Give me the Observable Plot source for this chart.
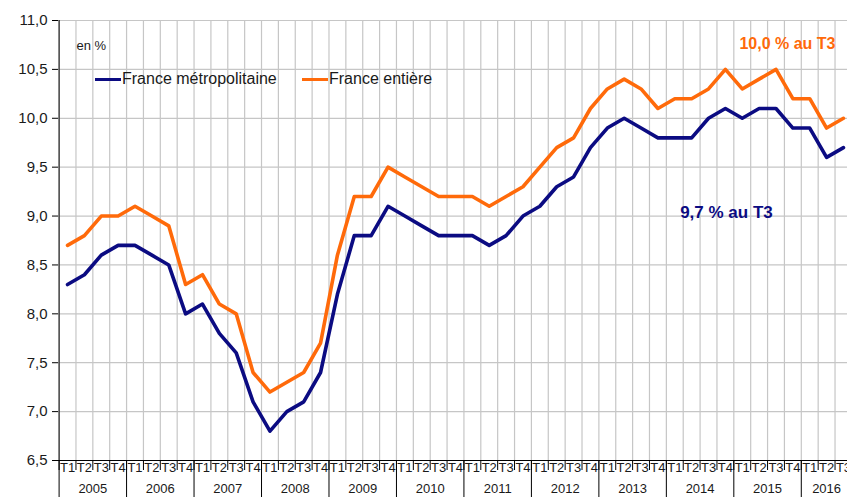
<!DOCTYPE html>
<html><head><meta charset="utf-8">
<script src="https://cdn.jsdelivr.net/npm/d3@7"></script>
<script src="https://cdn.jsdelivr.net/npm/@observablehq/plot@0.6"></script>
<style>
html,body{margin:0;padding:0;background:#fff;overflow:hidden;}
#wrap{position:relative;width:847px;height:497px;overflow:hidden;}
.leg{position:absolute;height:20px;font-family:"Liberation Sans",Arial,sans-serif;font-size:16px;color:#1a1a1a;display:flex;align-items:center;white-space:nowrap;}
.leg .sw{display:inline-block;width:26px;height:3px;margin-right:1px;}
</style></head><body><div id="wrap"></div>
<script>
// ---- data ----
const years = [2005,2006,2007,2008,2009,2010,2011,2012,2013,2014,2015,2016];
const quarterLabels = ["T1","T2","T3","T4"];
const seriesNames = ["France métropolitaine","France entière"];
const seriesColors = ["#0b0b82","#ff6a0a"];
const metro = [
  8.3, 8.4, 8.6, 8.7,
  8.7, 8.6, 8.5, 8.0,
  8.1, 7.8, 7.6, 7.1,
  6.8, 7.0, 7.1, 7.4,
  8.2, 8.8, 8.8, 9.1,
  9.0, 8.9, 8.8, 8.8,
  8.8, 8.7, 8.8, 9.0,
  9.1, 9.3, 9.4, 9.7,
  9.9, 10.0, 9.9, 9.8,
  9.8, 9.8, 10.0, 10.1,
  10.0, 10.1, 10.1, 9.9,
  9.9, 9.6, 9.7
];
const entiere = [
  8.7, 8.8, 9.0, 9.0,
  9.1, 9.0, 8.9, 8.3,
  8.4, 8.1, 8.0, 7.4,
  7.2, 7.3, 7.4, 7.7,
  8.6, 9.2, 9.2, 9.5,
  9.4, 9.3, 9.2, 9.2,
  9.2, 9.1, 9.2, 9.3,
  9.5, 9.7, 9.8, 10.1,
  10.3, 10.4, 10.3, 10.1,
  10.2, 10.2, 10.3, 10.5,
  10.3, 10.4, 10.5, 10.2,
  10.2, 9.9, 10.0
];
const yTicks = [6.5,7.0,7.5,8.0,8.5,9.0,9.5,10.0,10.5,11.0];
const annotations = ["9,7 % au T3","10,0 % au T3"];
const unitLabel = "en %";

// ---- derived ----
const n = metro.length;
const idx = d3.range(n);
const quarterOf = i => quarterLabels[i % 4];
const rows = [
  ...metro.map((v, i) => ({i, v, s: seriesNames[0]})),
  ...entiere.map((v, i) => ({i, v, s: seriesNames[1]}))
];
const boundaries = d3.range(n + 2).map(k => k - 0.5);
const yearBounds = years.map((y, k) => 4 * k - 0.5).concat([n + 0.5]);
const yearCenters = years.map((y, k) => {
  const first = 4 * k, last = Math.min(4 * k + 3, n - 1);
  return {x: (first + last) / 2, label: String(y)};
});
const last = [
  {i: n - 1, v: metro[n - 1], t: annotations[0], c: seriesColors[0]},
  {i: n - 1, v: entiere[n - 1], t: annotations[1], c: seriesColors[1]}
];

const chart = Plot.plot({
  width: 847, height: 497,
  marginTop: 20, marginBottom: 37, marginLeft: 58, marginRight: 0,
  x: {type: "linear", domain: [-0.5, n - 0.5], range: [58.6, 851.4], axis: null},
  y: {domain: [6.5, 11], axis: null},
  color: {domain: seriesNames, range: seriesColors},
  style: {fontFamily: "'Liberation Sans', Arial, sans-serif", background: "#fff", color: "#1a1a1a"},
  marks: [
    Plot.ruleY(yTicks, {stroke: "#c6c6c6", strokeWidth: 1.2}),
    Plot.ruleX(boundaries, {stroke: "#c6c6c6", strokeWidth: 1.2}),
    Plot.ruleY([6.5], {stroke: "#000", strokeWidth: 1}),
    Plot.ruleX([-0.5], {stroke: "#000", strokeWidth: 1}),
    Plot.axisY(yTicks, {anchor: "left", tickSize: 6, tickPadding: 5, fontSize: 15, stroke: "#000",
      tickFormat: d => d.toFixed(1).replace(".", ","), label: null}),
    Plot.axisX(boundaries, {anchor: "bottom", tickSize: 10, tickFormat: () => "", stroke: "#000", label: null}),
    Plot.axisX(yearBounds, {anchor: "bottom", tickSize: 40, tickFormat: () => "", stroke: "#000", label: null}),
    Plot.axisX(idx, {anchor: "bottom", tickSize: 0, tickPadding: 2, fontSize: 13, tickFormat: quarterOf, label: null}),
    Plot.text(yearCenters, {x: "x", y: 6.5, text: "label", fontSize: 13, dy: 28, lineAnchor: "middle"}),
    Plot.line(rows, {x: "i", y: "v", z: "s", stroke: "s", strokeWidth: 3.6, strokeLinejoin: "round"}),
    Plot.text(last.slice(0, 1), {x: "i", y: "v", text: "t", fill: "c", fontWeight: "bold", fontSize: 17, dx: -117, dy: 65}),
    Plot.text(last.slice(1), {x: "i", y: "v", text: "t", fill: "c", fontWeight: "bold", fontSize: 16, dx: -56, dy: -74}),
    Plot.text([unitLabel], {frameAnchor: "top-left", dx: 18, dy: 25, fontSize: 13, textAnchor: "start", lineAnchor: "middle"})
  ]
});
const wrap = document.getElementById("wrap");
wrap.appendChild(chart);

// legend (inside plot area, as in the reference)
const legPos = [{left: 95, top: 69}, {left: 302, top: 69}];
seriesNames.forEach((name, k) => {
  const d = document.createElement("div");
  d.className = "leg";
  d.style.left = legPos[k].left + "px";
  d.style.top = legPos[k].top + "px";
  const sw = document.createElement("span");
  sw.className = "sw";
  sw.style.background = seriesColors[k];
  d.appendChild(sw);
  d.appendChild(document.createTextNode(name));
  wrap.appendChild(d);
});
</script></body></html>
